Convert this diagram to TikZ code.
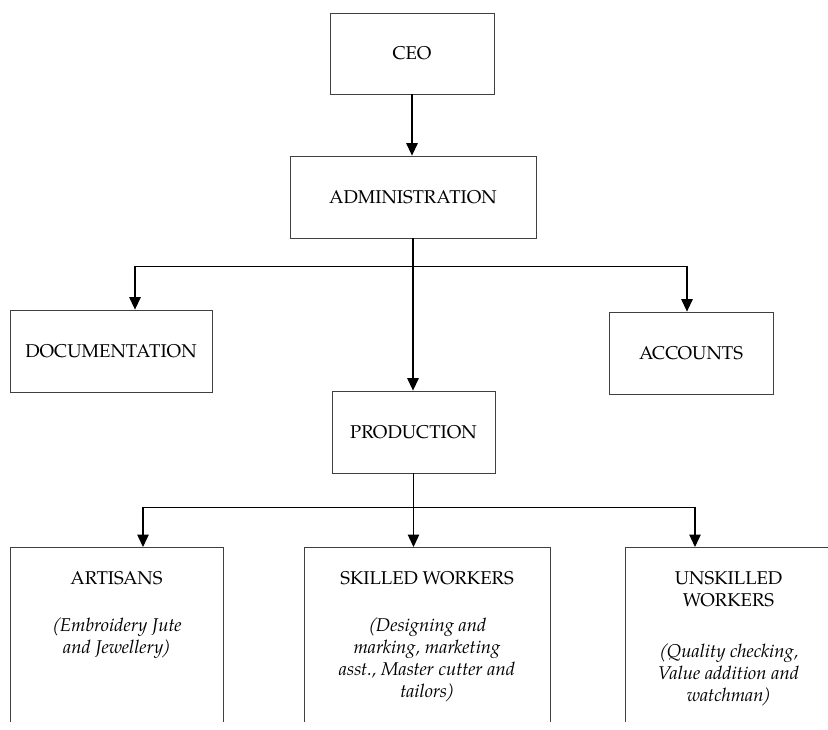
\documentclass[tikz,border=0pt]{standalone}
\usepackage{fontspec}
\setmainfont{TeX Gyre Pagella}
\newfontfamily\slantpar[FakeSlant=0.22]{TeX Gyre Pagella}
\newcommand\lpar{{\slantpar(}}
\newcommand\rpar{\kern-2pt{\slantpar)}}
\usetikzlibrary{arrows.meta}
\begin{document}
\begin{tikzpicture}[x=1pt,y=-1pt,
  every node/.style={font=\fontsize{18.5}{22}\selectfont},
  unit/.style={draw=black!75, line width=0.8pt, rectangle, inner sep=0pt, align=center},
  link/.style={line width=1.3pt, -{Triangle[length=12.5pt,width=11.5pt]}},
  bar/.style={line width=1pt, line cap=rect},
  headtext/.style={inner sep=0pt, align=center, anchor=north},
  notetext/.style={headtext, font=\fontsize{18.5}{22}\selectfont\itshape}]
\useasboundingbox (0,0) rectangle (828,729);

% upper chart
\node[unit, minimum width=164pt, minimum height=81pt] (ceo) at (412,53.5) {CEO};
\node[unit, minimum width=246pt, minimum height=82pt] (admin) at (413,197) {ADMINISTRATION};
\node[unit, minimum width=202pt, minimum height=82pt] (doc) at (111,351) {DOCUMENTATION};
\node[unit, minimum width=164pt, minimum height=82pt] (acc) at (691,353) {ACCOUNTS};
\node[unit, minimum width=163pt, minimum height=82pt] (prod) at (413.5,432) {PRODUCTION};

% worker groups, open at the foot of the page
\begin{scope}
  \clip (0,0) rectangle (828,721);
  \node[unit, anchor=north, minimum width=213pt, minimum height=220pt] (art) at (116.5,547) {};
  \node[unit, anchor=north, minimum width=246pt, minimum height=220pt] (skl) at (427,547) {};
  \node[unit, anchor=north, minimum width=207pt, minimum height=220pt] (uns) at (728.5,547) {};
\end{scope}

\node[headtext] (artH) at (116.5,571.5) {ARTISANS};
\node[notetext] (artN) at (116.5,617.5) {\lpar Embroidery Jute\\and Jewellery\rpar};
\node[headtext] (sklH) at (427,571.5) {SKILLED WORKERS};
\node[notetext] (sklN) at (427,617.5) {\lpar Designing and\\marking, marketing\\asst., Master cutter and\\tailors\rpar};
\node[headtext] (unsH) at (728.5,571.5) {UNSKILLED\\WORKERS};
\node[notetext] (unsN) at (728.5,643.5) {\lpar Quality checking,\\Value addition and\\watchman\rpar};

% connectors
\draw[link] (ceo.south) -- (ceo.south |- admin.north);
\draw[link] (admin.south) -- (admin.south |- prod.north);

\coordinate (docIn) at ([xshift=24pt]doc.north);
\coordinate (accIn) at ([xshift=-4pt]acc.north);
\coordinate (topBar) at (0,266);
\draw[bar] (docIn |- topBar) -- (accIn |- topBar);
\draw[link] (docIn |- topBar) -- (docIn);
\draw[link] (accIn |- topBar) -- (accIn);

\draw[link] (prod.south) -- (prod.south |- skl.north);
\coordinate (artIn) at ([xshift=26.5pt]art.north);
\coordinate (unsIn) at ([xshift=-33.5pt]uns.north);
\coordinate (lowBar) at (0,507);
\draw[bar] (artIn |- lowBar) -- (unsIn |- lowBar);
\draw[link] (artIn |- lowBar) -- (artIn);
\draw[link] (unsIn |- lowBar) -- (unsIn);
\end{tikzpicture}
\end{document}
